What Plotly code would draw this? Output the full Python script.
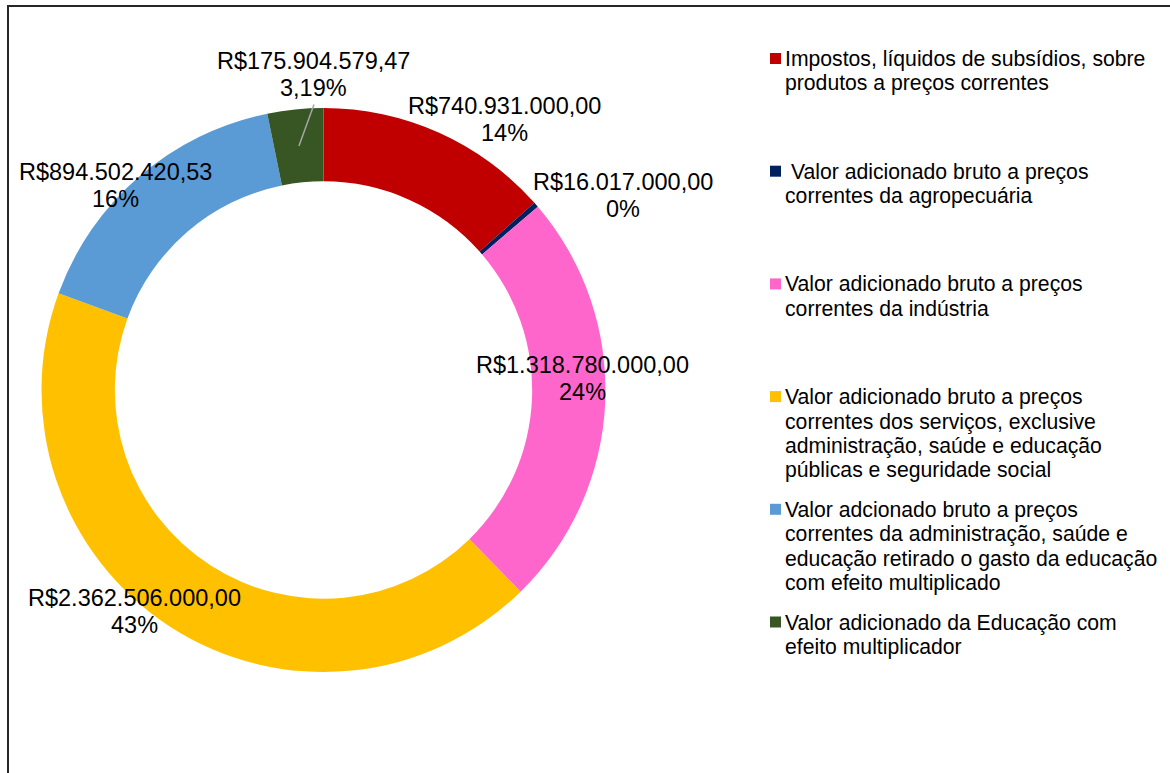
import math
import textwrap
import plotly.graph_objects as go

# dados do gráfico
categorias = [
    "Impostos, líquidos de subsídios, sobre produtos a preços correntes",
    " Valor adicionado bruto a preços correntes da agropecuária",
    "Valor adicionado bruto a preços correntes da indústria",
    "Valor adicionado bruto a preços correntes dos serviços, exclusive "
    "administração, saúde e educação públicas e seguridade social",
    "Valor adcionado bruto a preços correntes da administração, saúde e "
    "educação retirado o gasto da educação com efeito multiplicado",
    "Valor adicionado da Educação com efeito multiplicador",
]
valores = [740931000.00, 16017000.00, 1318780000.00, 2362506000.00,
           894502420.53, 175904579.47]
percentuais = ["14%", "0%", "24%", "43%", "16%", "3,19%"]
cores = ["#C00000", "#002060", "#FF66CC", "#FFC000", "#5B9BD5", "#375623"]

# geometria da página (pixels)
W, H = 1170, 773
CX, CY, R = 323.5, 390, 282
HOLE = 0.74
FONTE = "Liberation Sans, Arial, sans-serif"
FS_ROTULO = 23.5
FS_LEGENDA = 21.2

# posição (centro x, linha de base da 1a linha) de cada rótulo
rotulo_pos = [(504, 114), (623, 190), (582, 373), (134, 606), (115, 180), (313, 69)]
ROTULO_GAP = 27.5

LEG_X_TEXTO = 783
LEG_Y0 = 66.5
LEG_PASSO = 112.7
LEG_GAP = 24.4


def px(x):
    return x / W


def py(y):
    return 1 - y / H


def brl(v):
    s = f"{v:,.2f}"
    return "R$" + s.replace(",", "X").replace(".", ",").replace("X", ".")


fig = go.Figure(go.Pie(
    labels=categorias,
    values=valores,
    hole=HOLE,
    sort=False,
    direction="clockwise",
    rotation=0,
    marker=dict(colors=cores, line=dict(width=0)),
    textinfo="none",
    hoverinfo="label+value+percent",
    showlegend=False,
    domain=dict(x=[px(CX - R), px(CX + R)], y=[py(CY + R), py(CY - R)]),
))

anotacoes = []
shapes = []

# rótulos de dados
for v, p, (lx, ly) in zip(valores, percentuais, rotulo_pos):
    for i, linha in enumerate([brl(v), p]):
        base = ly + i * ROTULO_GAP
        anotacoes.append(dict(
            x=px(lx), y=py(base - 0.35 * FS_ROTULO), xref="paper", yref="paper",
            text=linha, showarrow=False, xanchor="center", yanchor="middle",
            font=dict(family=FONTE, size=FS_ROTULO, color="#000000"),
        ))

# linha de chamada do último setor
total = sum(valores)
meio = (total - valores[-1] / 2) / total * 2 * math.pi
r_meio = R * (1 + HOLE) / 2
lx, ly = rotulo_pos[-1]
shapes.append(dict(
    type="line", xref="paper", yref="paper",
    x0=px(lx + 1), y0=py(ly + ROTULO_GAP + 8),
    x1=px(CX + r_meio * math.sin(meio)), y1=py(CY - r_meio * math.cos(meio)),
    line=dict(color="#A6A6A6", width=1.5),
))

# legenda
for k, (nome, cor) in enumerate(zip(categorias, cores)):
    base0 = LEG_Y0 + k * LEG_PASSO
    linhas = textwrap.wrap(nome, width=38)
    for i, linha in enumerate(linhas):
        if linha.startswith(" "):
            linha = "\u00a0" + linha[1:]
        base = base0 + i * LEG_GAP
        anotacoes.append(dict(
            x=px(LEG_X_TEXTO), y=py(base - 0.35 * FS_LEGENDA), xref="paper", yref="paper",
            text=linha, showarrow=False, xanchor="left", yanchor="middle",
            font=dict(family=FONTE, size=FS_LEGENDA, color="#000000"),
        ))
    c = base0 - 8
    shapes.append(dict(
        type="rect", xref="paper", yref="paper",
        x0=px(770), x1=px(781), y0=py(c + 5.5), y1=py(c - 5.5),
        fillcolor=cor, line=dict(width=0),
    ))

# moldura da área do gráfico (aberta à direita e embaixo, como no recorte)
shapes.append(dict(type="path", xref="paper", yref="paper",
                   path=f"M {px(W)},{py(6)} L {px(8)},{py(6)} L {px(8)},{py(H)}",
                   line=dict(color="#262626", width=2)))

fig.update_layout(
    width=W, height=H,
    margin=dict(l=0, r=0, t=0, b=0, pad=0),
    paper_bgcolor="white",
    plot_bgcolor="white",
    annotations=anotacoes,
    shapes=shapes,
)

fig.write_html(
    "out.html",
    config={"displayModeBar": False},
    post_script="document.body.style.margin = '0'; document.body.style.overflow = 'hidden';",
)
